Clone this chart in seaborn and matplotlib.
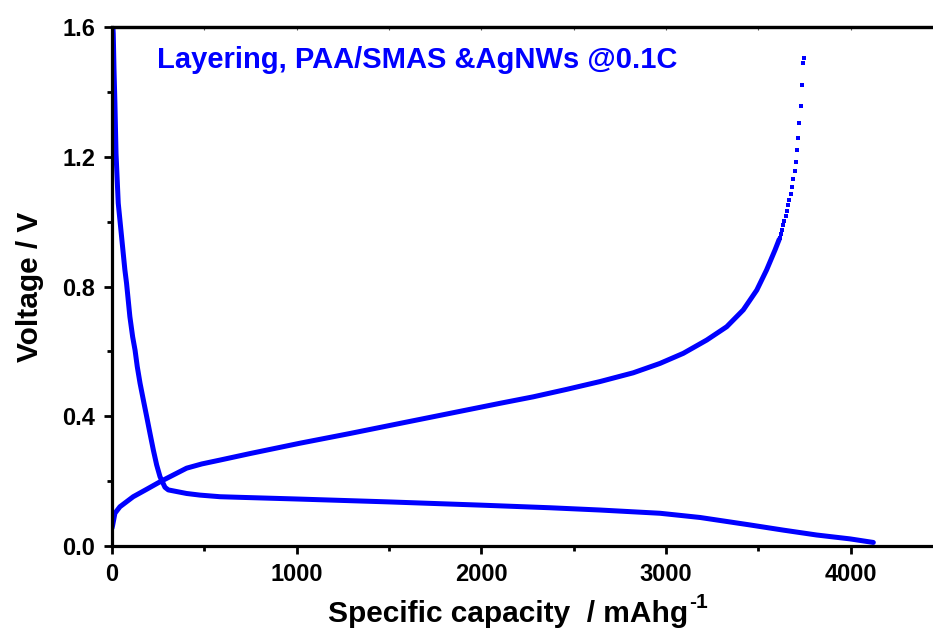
import seaborn as sns
import matplotlib.pyplot as plt
import pandas as pd
import numpy as np

# discharge curve
dis_cap = [5, 7, 11, 16, 22, 34, 52, 70, 79, 97, 112, 125, 137, 152, 170, 188,
           206, 224, 242, 260, 287, 305, 404, 476, 585, 700, 1000, 1500, 2000,
           2371, 2642, 2967, 3184, 3454, 3635, 3815, 3996, 4122]
dis_volt = [1.60, 1.58, 1.47, 1.365, 1.21, 1.057, 0.954, 0.851, 0.810, 0.707,
            0.645, 0.604, 0.553, 0.502, 0.450, 0.399, 0.347, 0.296, 0.250, 0.214,
            0.181, 0.173, 0.162, 0.157, 0.152, 0.150, 0.145, 0.136, 0.126,
            0.118, 0.111, 0.101, 0.088, 0.065, 0.049, 0.034, 0.022, 0.011]

# charge curve, dense part
chg_cap = [0, 4, 16, 43, 115, 188, 260, 332, 404, 486, 585, 747, 1018, 1289,
           1559, 1830, 2101, 2281, 2462, 2642, 2822, 2967, 3093, 3220, 3328,
           3418, 3491, 3544, 3590, 3612]
chg_volt = [0.055, 0.065, 0.101, 0.121, 0.152, 0.175, 0.198, 0.219, 0.240,
            0.253, 0.265, 0.285, 0.317, 0.347, 0.378, 0.409, 0.440, 0.460,
            0.483, 0.507, 0.534, 0.563, 0.594, 0.635, 0.676, 0.728, 0.789,
            0.851, 0.913, 0.945]

# charge curve, sparse points near the top
top_cap = [3615, 3620, 3627, 3633, 3640, 3647, 3653, 3660, 3667, 3675, 3682,
           3689, 3696, 3703, 3709, 3714, 3721, 3729, 3736, 3743, 3748]
top_volt = [0.950, 0.963, 0.975, 0.989, 1.002, 1.017, 1.034, 1.050, 1.067, 1.086,
            1.108, 1.131, 1.156, 1.185, 1.220, 1.258, 1.304, 1.357, 1.421, 1.490, 1.505]

blue = '#0000FF'

sns.set_style('ticks')
plt.rcParams['font.family'] = ['Liberation Sans', 'DejaVu Sans']
plt.rcParams['font.weight'] = 'bold'
for k in ['text.color', 'axes.labelcolor', 'xtick.color', 'ytick.color', 'axes.edgecolor']:
    plt.rcParams[k] = 'black'

fig = plt.figure(figsize=(9.33, 6.33), dpi=100)
ax = fig.add_axes([0.120, 0.1374, 0.880, 0.8199])

df_dis = pd.DataFrame({'cap': dis_cap, 'volt': dis_volt})
df_chg = pd.DataFrame({'cap': chg_cap, 'volt': chg_volt})
df_top = pd.DataFrame({'cap': top_cap, 'volt': top_volt})

sns.lineplot(data=df_dis, x='cap', y='volt', sort=False, color=blue, lw=3.6, ax=ax)
sns.lineplot(data=df_chg, x='cap', y='volt', sort=False, color=blue, lw=3.6, ax=ax)
sns.scatterplot(data=df_top, x='cap', y='volt', color=blue, marker='s', s=12,
                linewidth=0, ax=ax)

ax.set_xlim(0, 4445)
ax.set_ylim(0, 1.6)
ax.set_xticks([0, 1000, 2000, 3000, 4000])
ax.set_xticks(np.arange(500, 4500, 1000), minor=True)
ax.set_yticks([0.0, 0.4, 0.8, 1.2, 1.6])
ax.set_yticklabels(['0.0', '0.4', '0.8', '1.2', '1.6'])
ax.set_yticks([0.2, 0.6, 1.0, 1.4], minor=True)
ax.tick_params(which='major', length=6, width=2, labelsize=17, pad=6)
ax.tick_params(which='minor', length=3.5, width=2)

for s in ['left', 'bottom', 'top']:
    ax.spines[s].set_linewidth(2.3)
ax.spines['right'].set_visible(False)

sec = ax.secondary_xaxis('top')
sec.set_xticks(np.arange(500, 4500, 500))
sec.tick_params(direction='in', length=2, width=0.8, labeltop=False, colors='#555555')
sec.spines['top'].set_linewidth(2.3)
sec.spines['top'].set_color('black')

ax.set_xlabel('Specific capacity  / mAhg', fontsize=21.5, fontweight='bold', labelpad=10)
ax.xaxis.label.set_x(0.483)
ax.set_ylabel('Voltage / V', fontsize=21.5, fontweight='bold', labelpad=13)

# superscript -1 after the x label
fig.canvas.draw()
bb = ax.xaxis.label.get_window_extent()
fig.text(bb.x1 / fig.bbox.width + 0.001, (bb.y1 - 12) / fig.bbox.height, '-1',
         fontsize=15, fontweight='bold', ha='left', va='bottom')

ax.text(0.055, 0.936, 'Layering, PAA/SMAS &AgNWs @0.1C', transform=ax.transAxes,
        color=blue, fontsize=21, fontweight='bold', va='center', ha='left')

fig.savefig('out.png', dpi=100)
